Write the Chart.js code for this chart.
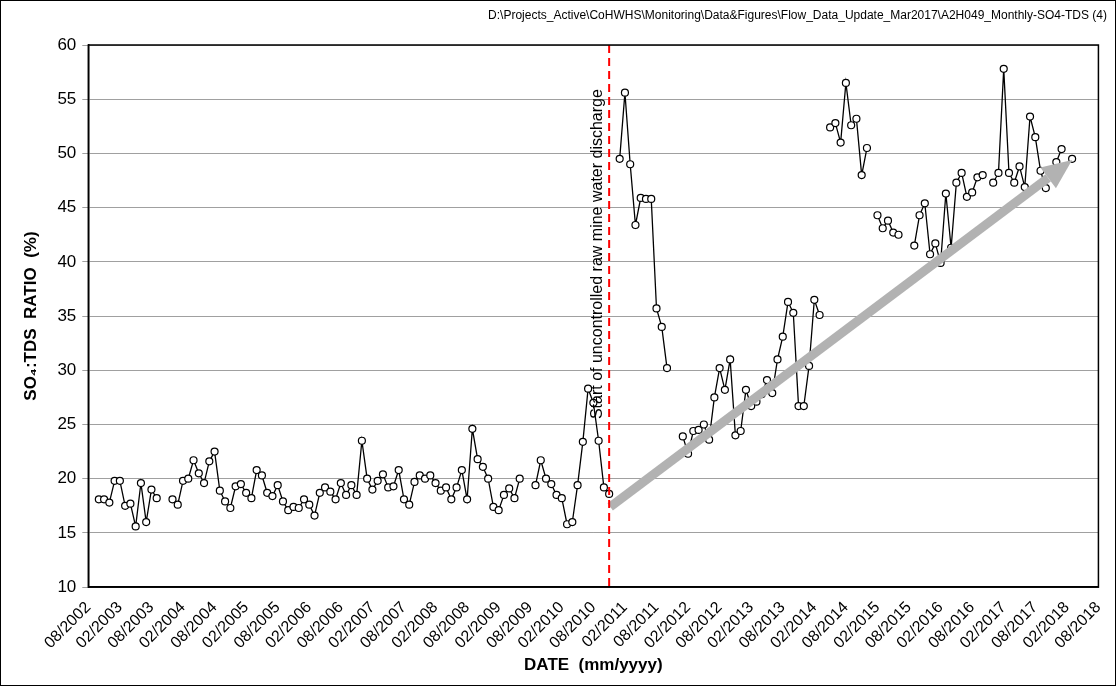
<!DOCTYPE html>
<html>
<head>
<meta charset="utf-8">
<script src="https://cdn.jsdelivr.net/npm/chart.js@4/dist/chart.umd.min.js"></script>
<style>
  html, body { margin: 0; padding: 0; background: #fff; }
  #wrap { width: 1116px; height: 686px; position: relative; box-sizing: border-box; border: 1px solid #000; }
  canvas { display: block; }
</style>
</head>
<body>
<div id="wrap"><canvas id="chart" width="1114" height="684"></canvas></div>
<script>
// monthly labels from 08/2002 to 08/2018
const months = [];
for (let i = 0; i <= 192; i++) {
  const m = (7 + i) % 12 + 1;
  const y = 2002 + Math.floor((7 + i) / 12);
  months.push((m < 10 ? '0' : '') + m + '/' + y);
}

// SO4:TDS ratio (%), starting 10/2002, null = no sample
const ratioValues = [
  18.1, 18.1, 17.8, 19.8, 19.8, 17.5, 17.7, 15.6, 19.6, 16.0, 19.0, 18.2,
  null, null,
  18.1, 17.6, 19.8, 20.0, 21.7, 20.5, 19.6, 21.6, 22.5, 18.9, 17.9, 17.3,
  19.3, 19.5, 18.7, 18.2, 20.8, 20.3, 18.7, 18.4, 19.4, 17.9, 17.1, 17.4,
  17.3, 18.1, 17.6, 16.6, 18.7, 19.2, 18.8, 18.1, 19.6, 18.5, 19.4, 18.5,
  23.5, 20.0, 19.0, 19.8, 20.4, 19.2, 19.3, 20.8, 18.1, 17.6, 19.7, 20.3,
  20.0, 20.3, 19.6, 18.9, 19.2, 18.1, 19.2, 20.8, 18.1, 24.6, 21.8, 21.1,
  20.0, 17.4, 17.1, 18.5, 19.1, 18.2, 20.0,
  null, null,
  19.4, 21.7, 20.0, 19.5, 18.5, 18.2, 15.8, 16.0, 19.4, 23.4, 28.3, 27.0,
  23.5, 19.2, 18.6,
  null,
  49.5, 55.6, 49.0, 43.4, 45.9, 45.8, 45.8, 35.7, 34.0, 30.2,
  null, null,
  23.9, 22.3, 24.4, 24.5, 25.0, 23.6, 27.5, 30.2, 28.2, 31.0, 24.0, 24.4,
  28.2, 26.7, 27.1, 27.8, 29.1, 27.9, 31.0, 33.1, 36.3, 35.3, 26.7, 26.7,
  30.4, 36.5, 35.1,
  null,
  52.4, 52.8, 51.0, 56.5, 52.6, 53.2, 48.0, 50.5,
  null,
  44.3, 43.1, 43.8, 42.7, 42.5,
  null, null,
  41.5, 44.3, 45.4, 40.7, 41.7, 39.9, 46.3, 41.3, 47.3, 48.2, 46.0, 46.4,
  47.8, 48.0,
  null,
  47.3, 48.2, 57.8, 48.2, 47.3, 48.8, 46.9, 53.4, 51.5, 48.4, 46.8,
  null,
  49.2, 50.4,
  null,
  49.5
];
const firstMonth = 2; // 10/2002
const seriesData = new Array(firstMonth).fill(null).concat(ratioValues);
while (seriesData.length < months.length) seriesData.push(null);

const dischargeMonth = 99; // 11/2010
const trendStart = { x: 99.2, y: 17.4 };
const trendEnd = { x: 187, y: 49.4 };
const filePath = 'D:\\Projects_Active\\CoHWHS\\Monitoring\\Data&Figures\\Flow_Data_Update_Mar2017\\A2H049_Monthly-SO4-TDS (4)';

const overlay = {
  id: 'overlay',
  afterDatasetsDraw(chart) {
    const { ctx, scales } = chart;
    const xs = scales.x, ys = scales.y;
    ctx.save();
    // trend arrow
    const x1 = xs.getPixelForValue(trendStart.x), y1 = ys.getPixelForValue(trendStart.y);
    const x2 = xs.getPixelForValue(trendEnd.x), y2 = ys.getPixelForValue(trendEnd.y);
    const ang = Math.atan2(y2 - y1, x2 - x1);
    const head = 30;
    const bx = x2 - head * Math.cos(ang), by = y2 - head * Math.sin(ang);
    ctx.strokeStyle = '#b2b2b2';
    ctx.fillStyle = '#b2b2b2';
    ctx.lineWidth = 9;
    ctx.beginPath(); ctx.moveTo(x1, y1); ctx.lineTo(bx, by); ctx.stroke();
    ctx.beginPath();
    ctx.moveTo(x2, y2);
    ctx.lineTo(bx + 13 * Math.sin(ang), by - 13 * Math.cos(ang));
    ctx.lineTo(bx - 13 * Math.sin(ang), by + 13 * Math.cos(ang));
    ctx.closePath(); ctx.fill();
    ctx.restore();
  },
  afterDraw(chart) {
    const { ctx, chartArea, scales } = chart;
    const xs = scales.x, ys = scales.y;
    ctx.save();
    // discharge line
    const xd = xs.getPixelForValue(dischargeMonth);
    ctx.strokeStyle = '#ff0000';
    ctx.lineWidth = 2;
    ctx.setLineDash([8, 5]);
    ctx.beginPath(); ctx.moveTo(xd, chartArea.top); ctx.lineTo(xd, chartArea.bottom); ctx.stroke();
    ctx.setLineDash([]);
    // rotated label
    ctx.translate(xd - 4, ys.getPixelForValue(25.5));
    ctx.rotate(-Math.PI / 2);
    ctx.fillStyle = '#000';
    ctx.font = '16px "Liberation Sans", Arial';
    ctx.textBaseline = 'bottom';
    ctx.fillText('Start of uncontrolled raw mine water discharge', 0, 0);
    ctx.restore();
    // file path
    ctx.save();
    ctx.font = '12px "Liberation Sans", Arial';
    ctx.fillStyle = '#000';
    ctx.textAlign = 'right';
    ctx.fillText(filePath, 1106, 18);
    // plot border
    ctx.strokeStyle = '#000';
    ctx.lineWidth = 1.5;
    ctx.strokeRect(chartArea.left, chartArea.top, chartArea.right - chartArea.left, chartArea.bottom - chartArea.top);
    ctx.restore();
  }
};

new Chart(document.getElementById('chart'), {
  type: 'line',
  data: {
    labels: months,
    datasets: [{
      data: seriesData,
      borderColor: '#000',
      borderWidth: 1.3,
      pointRadius: 3.5,
      pointBackgroundColor: '#fff',
      pointBorderColor: '#000',
      pointBorderWidth: 1.2,
      spanGaps: false,
      tension: 0
    }]
  },
  options: {
    responsive: false,
    animation: false,
    layout: { padding: { top: 44, right: 12, left: 16, bottom: 5 } },
    plugins: { legend: { display: false }, tooltip: { enabled: false } },
    scales: {
      x: {
        offset: false,
        grid: { display: false, drawTicks: true },
        border: { color: '#000', width: 1.5 },
        ticks: {
          autoSkip: false,
          maxRotation: 45,
          minRotation: 45,
          color: '#000',
          font: { size: 16, family: '"Liberation Sans", Arial' },
          callback: (v, i) => (i % 6 === 0 ? months[i] : null)
        },
        title: {
          display: true,
          text: 'DATE  (mm/yyyy)',
          color: '#000',
          font: { size: 17, weight: 'bold', family: '"Liberation Sans", Arial' },
          padding: { top: 0 }
        }
      },
      y: {
        min: 10,
        max: 60,
        grid: { color: '#a0a0a0', lineWidth: 1, tickLength: 6 },
        border: { color: '#000', width: 1.5 },
        ticks: {
          stepSize: 5,
          padding: 6,
          color: '#000',
          font: { size: 17, family: '"Liberation Sans", Arial' }
        },
        title: {
          display: true,
          text: 'SO\u2084:TDS  RATIO  (%)',
          color: '#000',
          font: { size: 17, weight: 'bold', family: '"Liberation Sans", Arial' },
          padding: { bottom: 10 }
        }
      }
    }
  },
  plugins: [overlay]
});
</script>
</body>
</html>
